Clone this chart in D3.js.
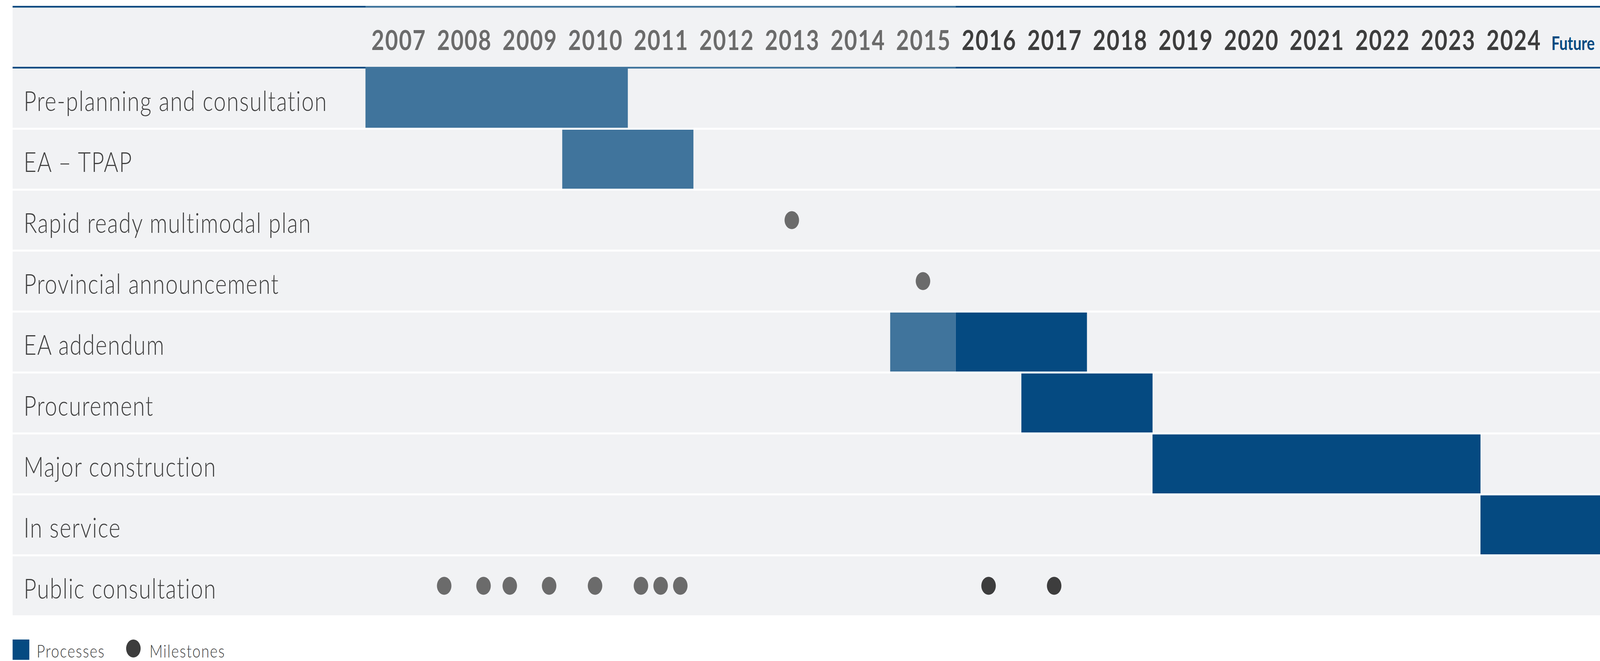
<!DOCTYPE html>
<html>
<head>
<meta charset="utf-8">
<script src="https://cdn.jsdelivr.net/npm/d3@7"></script>
<style>
  html, body { margin: 0; padding: 0; background: #fff; overflow: hidden; }
  svg { display: block; }
  .rowLabel { font-family: Lato, sans-serif; font-weight: 300; fill: #404040; letter-spacing: 2.3px; }
  .yearAxis text { font-family: Lato, sans-serif; font-weight: 700; letter-spacing: 3px; }
  .legendText { font-family: Lato, sans-serif; font-weight: 300; fill: #404040; letter-spacing: 2.5px; }
</style>
</head>
<body>
<div id="chart"></div>
<script>
// ---- data ----
const years = ['2007', '2008', '2009', '2010', '2011', '2012', '2013', '2014', '2015',
  '2016', '2017', '2018', '2019', '2020', '2021', '2022', '2023', '2024'];
const futureLabel = 'Future';
const presentYear = 2016; // years before this are drawn in the lighter tone

const tasks = [
  'Pre-planning and consultation',
  'EA – TPAP',
  'Rapid ready multimodal plan',
  'Provincial announcement',
  'EA addendum',
  'Procurement',
  'Major construction',
  'In service',
  'Public consultation'
];

// processes: start / end as year positions (start of year)
const processTask = ['Pre-planning and consultation', 'EA – TPAP', 'EA addendum', 'EA addendum', 'Procurement', 'Major construction', 'In service'];
const processStart = [2007, 2010, 2015, 2016, 2017, 2019, 2024];
const processEnd = [2011, 2012, 2016, 2018, 2019, 2024, 2026];

// milestones
const milestoneTask = ['Rapid ready multimodal plan', 'Provincial announcement',
  'Public consultation', 'Public consultation', 'Public consultation', 'Public consultation',
  'Public consultation', 'Public consultation', 'Public consultation', 'Public consultation',
  'Public consultation', 'Public consultation'];
const milestoneYear = [2013.5, 2015.5,
  2008.2, 2008.8, 2009.2, 2009.8, 2010.5, 2011.2, 2011.5, 2011.8,
  2016.5, 2017.5];

const legendItems = ['Processes', 'Milestones'];

// ---- setup ----
const width = 5074;
const height = 1692;
const margin = { left: 40, top: 15 };
const labelWidth = 1119;
const headerHeight = 156;
const rowStep = 156;
const gap = 5;

const DARK = '#054a81';
const LIGHT = '#40749c';
const BG = '#f1f2f4';
const GREY_DOT = '#6b6b6b';
const DARK_DOT = '#3d3d3d';

// drawn in a fixed 5074 x 1692 space, stretched to whatever the window is
const svg = d3.select('#chart').append('svg')
  .attr('width', window.innerWidth)
  .attr('height', window.innerHeight)
  .attr('viewBox', `0 0 ${width} ${height}`)
  .attr('preserveAspectRatio', 'none');

const firstYear = +years[0];
const lastYear = +years[years.length - 1];
const gridLeft = margin.left + labelWidth;

const xScale = d3.scaleLinear()
  .domain([firstYear, lastYear + 1])
  .range([gridLeft, gridLeft + (years.length) * 208]);

const rowTop = margin.top + headerHeight + gap;
const yScale = d3.scaleBand()
  .domain(tasks)
  .range([rowTop, rowTop + tasks.length * rowStep - gap])
  .paddingInner(gap / rowStep)
  .paddingOuter(0);

// ---- header ----
svg.append('rect')
  .attr('x', margin.left)
  .attr('y', margin.top)
  .attr('width', width - margin.left)
  .attr('height', headerHeight + gap)
  .attr('fill', BG);

// blue rules above / below the header, lighter over past years
function headerLine(y) {
  svg.append('rect')
    .attr('x', margin.left).attr('y', y)
    .attr('width', width - margin.left).attr('height', 4.5)
    .attr('fill', DARK);
  svg.append('rect')
    .attr('x', xScale(firstYear)).attr('y', y)
    .attr('width', xScale(presentYear) - xScale(firstYear)).attr('height', 4.5)
    .attr('fill', LIGHT);
  svg.append('rect')
    .attr('x', margin.left).attr('y', y + 4.5)
    .attr('width', width - margin.left).attr('height', 1)
    .attr('fill', '#c9d3dc');
}
headerLine(margin.top);
headerLine(margin.top + headerHeight);

// year labels via axis
const yearAxis = d3.axisTop(xScale)
  .tickValues(years.map(d => +d + 0.5))
  .tickFormat(d => String(Math.floor(d)))
  .tickSize(0)
  .tickPadding(0);

const axisG = svg.append('g')
  .attr('class', 'yearAxis')
  .attr('transform', `translate(1.5, ${margin.top + 113})`)
  .call(yearAxis);

axisG.select('.domain').remove();
axisG.selectAll('text')
  .attr('dy', 0)
  .style('font-size', '70px')
  .attr('fill', d => (d < presentYear ? GREY_DOT : DARK_DOT));

svg.append('text')
  .attr('x', (xScale(lastYear + 1) + width) / 2)
  .attr('y', margin.top + 113)
  .attr('text-anchor', 'middle')
  .style('font-family', 'Lato, sans-serif')
  .style('font-weight', 700)
  .style('font-size', '47px')
  .attr('fill', DARK)
  .text(futureLabel);

// ---- rows ----
const rows = svg.append('g').attr('class', 'rows');

rows.selectAll('.rowBg')
  .data(tasks)
  .enter()
  .append('rect')
  .attr('class', 'rowBg')
  .attr('x', margin.left)
  .attr('y', d => yScale(d))
  .attr('width', width - margin.left)
  .attr('height', yScale.bandwidth())
  .attr('fill', BG);

rows.selectAll('.rowLabel')
  .data(tasks)
  .enter()
  .append('text')
  .attr('class', 'rowLabel')
  .attr('x', margin.left + 35)
  .attr('y', d => yScale(d) + yScale.bandwidth() / 2 + 33)
  .style('font-size', '70px')
  .text(d => d);

// ---- process bars ----
const processes = processTask.map((t, i) => ({ task: t, start: processStart[i], end: processEnd[i] }));

svg.append('g').selectAll('.bar')
  .data(processes)
  .enter()
  .append('rect')
  .attr('class', 'bar')
  .attr('x', d => xScale(d.start))
  // first row bars sit right on the header rule
  .attr('y', d => yScale(d.task) - (d.task === tasks[0] ? gap : 0))
  .attr('width', d => Math.min(xScale(d.end), width) - xScale(d.start))
  .attr('height', d => yScale.bandwidth() + (d.task === tasks[0] ? gap : 0))
  .attr('fill', d => (d.end <= presentYear ? LIGHT : DARK));

// ---- milestones ----
const milestones = milestoneTask.map((t, i) => ({ task: t, year: milestoneYear[i] }));

svg.append('g').selectAll('.milestone')
  .data(milestones)
  .enter()
  .append('circle')
  .attr('class', 'milestone')
  .attr('cx', d => xScale(d.year))
  .attr('cy', d => yScale(d.task) + yScale.bandwidth() / 2)
  .attr('r', 23)
  .attr('fill', d => (d.year < presentYear ? GREY_DOT : DARK_DOT));

// ---- legend ----
const legend = svg.append('g')
  .attr('transform', `translate(${margin.left}, ${height - 55})`);

legend.append('rect')
  .attr('x', 0).attr('y', 0)
  .attr('width', 53).attr('height', 52)
  .attr('fill', DARK);

legend.append('text')
  .attr('class', 'legendText')
  .attr('x', 76).attr('y', 46)
  .style('font-size', '46px')
  .text(legendItems[0]);

legend.append('circle')
  .attr('cx', 383).attr('cy', 23)
  .attr('r', 23)
  .attr('fill', DARK_DOT);

legend.append('text')
  .attr('class', 'legendText')
  .attr('x', 434).attr('y', 46)
  .style('font-size', '46px')
  .text(legendItems[1]);
</script>
</body>
</html>
